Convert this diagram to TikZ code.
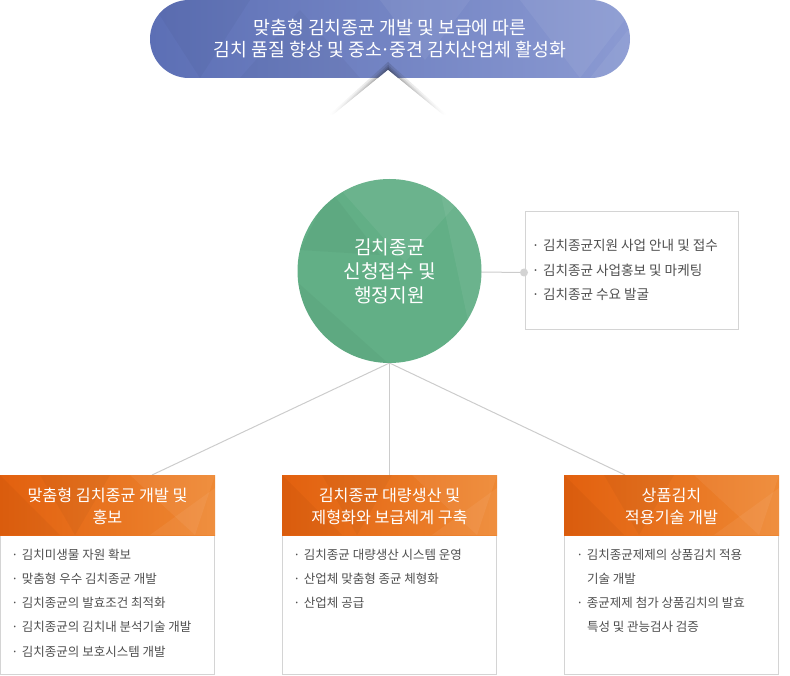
\documentclass[tikz,border=0pt]{standalone}
\usepackage{fontspec}
\setmainfont{Noto Sans CJK KR}
\usetikzlibrary{calc}
\definecolor{bannerL}{HTML}{5C6FB5}
\definecolor{bannerR}{HTML}{8B9AD2}
\definecolor{circGreen}{HTML}{62AF86}
\definecolor{hdrL}{HTML}{E2600E}
\definecolor{hdrR}{HTML}{EE8833}
\definecolor{boxGray}{HTML}{D4D4D4}
\definecolor{connGray}{HTML}{CCCCCC}
\definecolor{dotGray}{HTML}{D3D3D3}
\definecolor{txtGray}{HTML}{4F4F4F}
\newcommand{\bul}{\llap{·\hspace{3.5pt}}}
\newcommand{\mdot}{\makebox[0.42em]{·}}
\pgfdeclarelayer{behind}
\pgfsetlayers{behind,main}
\begin{document}
\begin{tikzpicture}[x=1pt,y=-1pt,
  every node/.style={inner sep=0pt,outer sep=0pt},
  conn/.style={draw=connGray,line width=1pt},
  bodytext/.style={anchor=base west,font=\fontsize{12.5}{15}\selectfont,text=txtGray},
  sidetext/.style={anchor=base west,font=\fontsize{13.6}{16}\selectfont,text=txtGray},
  hdrbox/.style={anchor=north west,minimum width=215pt,minimum height=60pt,left color=hdrL,right color=hdrR},
  hdrtext/.style={align=center,text=white,font=\fontsize{16.2}{22}\selectfont},
  listbox/.style={anchor=north west,draw=boxGray,line width=1pt,fill=white,minimum width=214pt,minimum height=139pt},
  lighttri/.style={fill=white,opacity=.06},
  darktri/.style={fill=black,opacity=.03},
  shadowstrip/.style={top color=black,bottom color=white,opacity=.13}
]
\useasboundingbox (0,0) rectangle (790,676);

% ---------- banner ----------
\node[rounded corners=38.9pt,minimum width=480pt,minimum height=78pt,left color=bannerL,right color=bannerR] (banner) at (390,39) {};
\begin{scope}
  \clip[rounded corners=38.9pt] (150,0) rectangle (630,78);
  \fill[lighttri] (520,0) -- (640,0) -- (580,78) -- cycle;
  \fill[lighttri] (590,78) -- (640,15) -- (640,78) -- cycle;
  \fill[lighttri] (380,0) -- (470,0) -- (425,60) -- cycle;
  \fill[darktri] (150,0) -- (250,0) -- (200,78) -- cycle;
  \fill[darktri] (240,78) -- (300,10) -- (360,78) -- cycle;
\end{scope}
\foreach \w in {1.5,3,5,8}{
  \shade[shadowstrip] (388,70-\w) -- (333-0.5*\w,115) -- (333,115) -- (388,70) -- cycle;
  \shade[shadowstrip] (388,70-\w) -- (443+0.5*\w,115) -- (443,115) -- (388,70) -- cycle;
}
\fill[white] (388,70) -- (333,115) -- (443,115) -- cycle;
\node[align=center,text=white,font=\fontsize{18.3}{22}\selectfont] (btxt) at (390,39)
  {맞춤형 김치종균 개발 및 보급에 따른\\김치 품질 향상 및 중소\mdot 중견 김치산업체 활성화};

% ---------- centre circle ----------
\node[circle,fill=circGreen,minimum size=184pt] (c) at (389.5,271) {};
\begin{scope}
  \clip (389.5,271) circle (92);
  \fill[lighttri] (330,178) -- (480,178) -- (405,262) -- cycle;
  \fill[lighttri] (440,190) -- (495,235) -- (470,330) -- cycle;
  \fill[darktri] (295,280) -- (390,365) -- (295,365) -- cycle;
  \fill[darktri] (330,190) -- (300,250) -- (380,255) -- cycle;
\end{scope}
\node[align=center,text=white,font=\fontsize{19.1}{24}\selectfont] (ctxt) at (389.5,271.5)
  {김치종균\\신청접수 및\\행정지원};

% ---------- side box ----------
\node[anchor=north west,draw=boxGray,line width=1pt,fill=white,minimum width=213pt,minimum height=118pt] (side) at (525.5,211.5) {};
\node[circle,fill=dotGray,minimum size=8pt] (dot) at (524,272.5) {};
\node[sidetext] (s1) at (543,251) {\bul 김치종균지원 사업 안내 및 접수};
\node[sidetext] (s2) at (543,275.5) {\bul 김치종균 사업홍보 및 마케팅};
\node[sidetext] (s3) at (543,300) {\bul 김치종균 수요 발굴};

% ---------- bottom boxes ----------
\node[listbox] (b1) at (0.5,535) {};
\node[listbox] (b2) at (282.5,535) {};
\node[listbox] (b3) at (564.5,535) {};
\node[hdrbox] (h1) at (0,475) {};
\node[hdrbox] (h2) at (282,475) {};
\node[hdrbox] (h3) at (564,475) {};
\foreach \x in {0,282,564}{
  \begin{scope}
    \clip (\x,475) rectangle ++(215,60);
    \fill[lighttri] (\x+130,475) -- (\x+215,475) -- (\x+195,535) -- cycle;
    \fill[lighttri] (\x+150,535) -- (\x+215,488) -- (\x+215,535) -- cycle;
    \fill[darktri] (\x,475) -- (\x+60,535) -- (\x,535) -- cycle;
    \fill[darktri] (\x+40,475) -- (\x+110,475) -- (\x+75,535) -- cycle;
  \end{scope}
}
\node[hdrtext] (h1t) at ($(h1)+(0,1.5)$) {맞춤형 김치종균 개발 및\\홍보};
\node[hdrtext] (h2t) at ($(h2)+(0,1.5)$) {김치종균 대량생산 및\\제형화와 보급체계 구축};
\node[hdrtext] (h3t) at ($(h3)+(0,1.5)$) {상품김치\\적용기술 개발};

\node[bodytext] (l1) at (22,559) {\bul 김치미생물 자원 확보};
\node[bodytext] (l2) at (22,583.25) {\bul 맞춤형 우수 김치종균 개발};
\node[bodytext] (l3) at (22,607.5) {\bul 김치종균의 발효조건 최적화};
\node[bodytext] (l4) at (22,631.75) {\bul 김치종균의 김치내 분석기술 개발};
\node[bodytext] (l5) at (22,656) {\bul 김치종균의 보호시스템 개발};

\node[bodytext] (m1) at (304,559) {\bul 김치종균 대량생산 시스템 운영};
\node[bodytext] (m2) at (304,583.25) {\bul 산업체 맞춤형 종균 체형화};
\node[bodytext] (m3) at (304,607.5) {\bul 산업체 공급};

\node[bodytext] (r1) at (587,559) {\bul 김치종균제제의 상품김치 적용};
\node[bodytext] (r2) at (587,583.25) {기술 개발};
\node[bodytext] (r3) at (587,607.5) {\bul 종균제제 첨가 상품김치의 발효};
\node[bodytext] (r4) at (587,631.75) {특성 및 관능검사 검증};

% ---------- connectors ----------
\coordinate (t1) at ($(h1.north west)!0.707!(h1.north east)$);
\coordinate (t2) at (h2.north);
\coordinate (t3) at ($(h3.north west)!0.284!(h3.north east)$);
\begin{pgfonlayer}{behind}
  \draw[conn] (c.center) -- (dot.center);
  \draw[conn] (c.south) -- (t1);
  \draw[conn] (c.south) -- (t2);
  \draw[conn] (c.south) -- (t3);
\end{pgfonlayer}
\end{tikzpicture}
\end{document}
